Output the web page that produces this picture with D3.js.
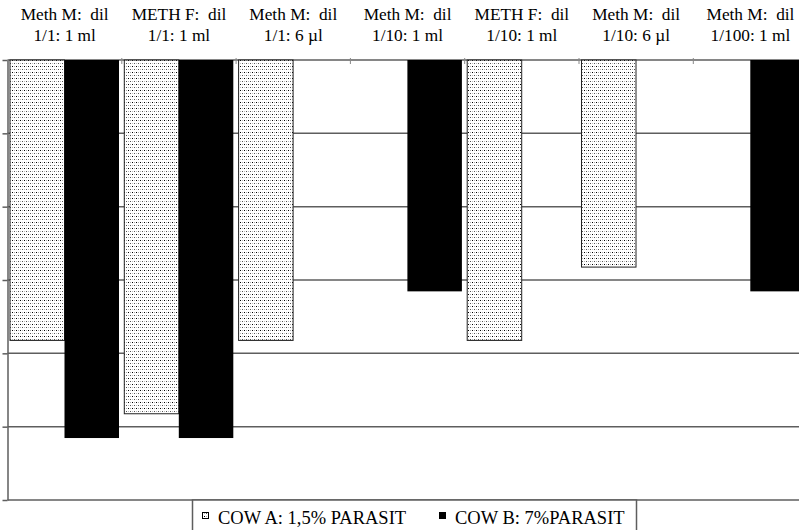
<!DOCTYPE html>
<html>
<head>
<meta charset="utf-8">
<script src="https://cdn.jsdelivr.net/npm/d3@7"></script>
<style>
  html, body { margin: 0; padding: 0; background: #fff; }
  svg { display: block; }
  text { font-family: "Liberation Serif", "Times New Roman", serif; fill: #000; white-space: pre; }
</style>
</head>
<body>
<svg id="chart" width="799" height="530"></svg>
<script>
// ---- data ----
const categories = ["c0", "c1", "c2", "c3", "c4", "c5", "c6"];
const labelLine1 = ["Meth M:  dil", "METH F:  dil", "Meth M:  dil", "Meth M:  dil", "METH F:  dil", "Meth M:  dil", "Meth M:  dil"];
const labelLine2 = ["1/1: 1 ml", "1/1: 1 ml", "1/1: 6 µl", "1/10: 1 ml", "1/10: 1 ml", "1/10: 6 µl", "1/100: 1 ml"];
const seriesNames = ["COW A: 1,5% PARASIT", "COW B: 7%PARASIT"];
const cowA = [1.5e-4, 1.5e-5, 1.5e-4, null, 1.5e-4, 1.5e-3, null];
const cowB = [7e-6, 7e-6, null, 7e-4, null, null, 7e-4];
const yTicks = [1, 1e-1, 1e-2, 1e-3, 1e-4, 1e-5, 1e-6];

(function () {
const svg = d3.select("#chart");

// pattern for COW A
const defs = svg.append("defs");
const pat = defs.append("pattern").attr("id", "dots")
  .attr("patternUnits", "userSpaceOnUse").attr("width", 4).attr("height", 6);
pat.append("rect").attr("width", 4).attr("height", 6).attr("fill", "#fff");
pat.append("rect").attr("x", 0).attr("y", 0).attr("width", 1).attr("height", 1).attr("fill", "#000");
pat.append("rect").attr("x", 2).attr("y", 3).attr("width", 1).attr("height", 1).attr("fill", "#555");
pat.append("rect").attr("x", 0).attr("y", 3).attr("width", 1).attr("height", 1).attr("fill", "#bbb");
pat.append("rect").attr("x", 2).attr("y", 0).attr("width", 1).attr("height", 1).attr("fill", "#aaa");

const plotTop = 60, plotBottom = 500, plotLeft = 7.5, catW = 114.3;
const x = d3.scaleBand().domain(categories).range([plotLeft, plotLeft + catW * categories.length]).padding(0);
const xs = d3.scaleBand().domain([0, 1]).range([2.5, 111.5]).padding(0);
const y = d3.scaleLog().domain([1, 1e-6]).range([plotTop, plotBottom]);

// gridlines
svg.append("g").selectAll("line").data(yTicks).join("line")
  .attr("x1", plotLeft).attr("x2", 799)
  .attr("y1", d => y(d)).attr("y2", d => y(d))
  .attr("stroke", "#5e5e5e").attr("stroke-width", 1.5);

// bars
const fills = ["url(#dots)", "#000"];
const strokes = ["#222", "none"];
[cowA, cowB].forEach((vals, si) => {
  svg.append("g").selectAll("rect")
    .data(vals.map((v, i) => ({ v, c: categories[i] })).filter(d => d.v != null))
    .join("rect")
    .attr("x", d => x(d.c) + xs(si))
    .attr("y", y(1))
    .attr("width", xs.bandwidth())
    .attr("height", d => y(d.v) - y(1))
    .attr("fill", fills[si])
    .attr("stroke", strokes[si])
    .attr("stroke-width", 1);
});

// left axis
const yAxis = d3.axisLeft(y).tickValues(yTicks).tickFormat("").tickSize(5).tickSizeOuter(0);
const ga = svg.append("g").attr("transform", `translate(${plotLeft},0)`).call(yAxis);
ga.select(".domain").attr("stroke", "#5e5e5e").attr("stroke-width", 1.5);
ga.selectAll(".tick line").attr("stroke", "#5e5e5e").attr("stroke-width", 1.5);

// top category boundary ticks
svg.append("g").selectAll("line").data(categories.slice(1)).join("line")
  .attr("x1", d => x(d)).attr("x2", d => x(d))
  .attr("y1", plotTop - 2).attr("y2", plotTop + 4)
  .attr("stroke", "#888").attr("stroke-width", 1);

// category labels
const lab = svg.append("g").selectAll("g").data(categories).join("g")
  .attr("transform", d => `translate(${x(d) + x.bandwidth() / 2},0)`);
lab.append("text").attr("y", 20).attr("text-anchor", "middle").attr("font-size", 17.3)
  .text((d, i) => labelLine1[i]);
lab.append("text").attr("y", 41).attr("text-anchor", "middle").attr("font-size", 17.3)
  .text((d, i) => labelLine2[i]);

// legend
const lg = svg.append("g");
lg.append("rect").attr("x", 192.5).attr("y", plotBottom).attr("width", 444).attr("height", 40)
  .attr("fill", "#fff").attr("stroke", "#5e5e5e").attr("stroke-width", 1.5);
const legX = [202, 439];
seriesNames.forEach((name, i) => {
  lg.append("rect").attr("x", legX[i] + 0.5).attr("y", 512.5).attr("width", 6).attr("height", 6)
    .attr("fill", fills[i]).attr("stroke", "#000").attr("stroke-width", 1);
  lg.append("text").attr("x", legX[i] + 16).attr("y", 523.5).attr("font-size", 18.5).text(name);
});
})();
</script>
</body>
</html>
